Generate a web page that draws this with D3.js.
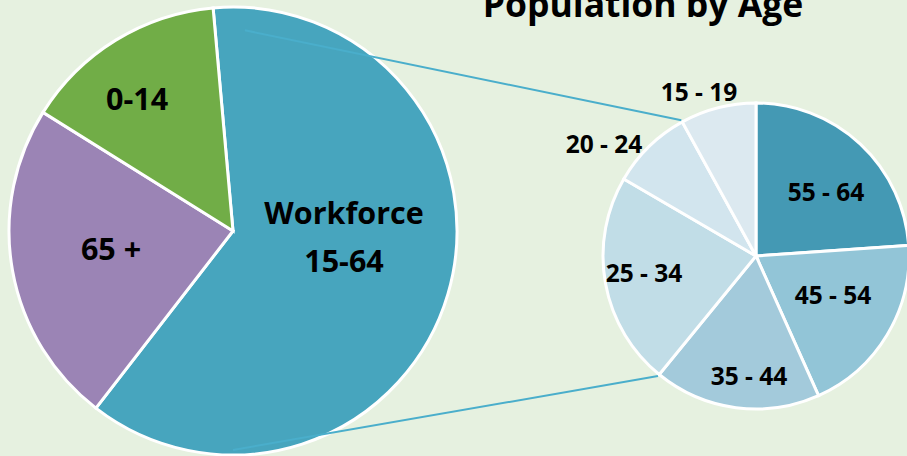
<!DOCTYPE html>
<html>
<head>
<meta charset="utf-8">
<script src="https://cdn.jsdelivr.net/npm/d3@7"></script>
<style>
  html, body { margin: 0; padding: 0; background: #e6f1e0; }
  text { font-family: "Open Sans", sans-serif; font-weight: 700; fill: #000; }
</style>
</head>
<body>
<div id="viz"></div>
<script>
// main split
const groups = ["Workforce 15-64", "65 +", "0-14"];
const groupShares = [61.9, 23.4, 14.7];
const groupColors = ["#47a5be", "#9b84b5", "#71ad47"];

// workforce breakdown
const ages = ["55 - 64", "45 - 54", "35 - 44", "25 - 34", "20 - 24", "15 - 19"];
const ageShares = [23.9, 19.4, 17.6, 22.5, 8.6, 8.0];
const ageColors = ["#4499b4", "#92c5d7", "#a3cadb", "#c1dde7", "#d2e5ee", "#dce9f0"];

const title = "Population by Age";

const width = 907, height = 456;
const deg = Math.PI / 180;

const svg = d3.select("#viz").append("svg")
    .attr("width", width)
    .attr("height", height);

const big = { x: 233, y: 231, r: 224 };
const small = { x: 756, y: 256, r: 153 };

const polar = (c, a, r) => [c.x + r * Math.sin(a), c.y - r * Math.cos(a)];

// big pie
const bigPie = d3.pie().sort(null).startAngle(-5.1 * deg).endAngle(354.9 * deg)
    .value(d => d.v)(groups.map((g, i) => ({ name: g, v: groupShares[i], color: groupColors[i] })));
const bigArc = d3.arc().innerRadius(0).outerRadius(big.r);

const gBig = svg.append("g").attr("transform", `translate(${big.x},${big.y})`);
gBig.selectAll(".big-slice")
    .data(bigPie)
    .join("path")
        .attr("class", "big-slice")
        .attr("d", bigArc)
        .attr("fill", d => d.data.color)
        .attr("stroke", "#fff")
        .attr("stroke-width", 3);

// small pie
const smallPie = d3.pie().sort(null)
    .value(d => d.v)(ages.map((g, i) => ({ name: g, v: ageShares[i], color: ageColors[i] })));
const smallArc = d3.arc().innerRadius(0).outerRadius(small.r);

const gSmall = svg.append("g").attr("transform", `translate(${small.x},${small.y})`);
gSmall.selectAll(".small-slice")
    .data(smallPie)
    .join("path")
        .attr("class", "small-slice")
        .attr("d", smallArc)
        .attr("fill", d => d.data.color)
        .attr("stroke", "#fff")
        .attr("stroke-width", 3);

// connector lines (from inside the workforce slice to the small pie)
const topStart = polar(big, 3.4 * deg, 201);
const botStart = polar(big, 180 * deg, 219);
const topEnd = polar(small, smallPie[5].startAngle, small.r + 2);
const botEnd = polar(small, smallPie[2].endAngle, small.r + 2);
svg.selectAll(".connector")
    .data([[topStart, topEnd], [botStart, botEnd]])
    .join("line")
        .attr("class", "connector")
        .attr("x1", d => d[0][0]).attr("y1", d => d[0][1])
        .attr("x2", d => d[1][0]).attr("y2", d => d[1][1])
        .attr("stroke", "#4aaecb")
        .attr("stroke-width", 2);

// labels, big pie
const bigLabelPos = [[344, 224], [111, 260], [137, 110]];
gBig.selectAll(".big-label")
    .data(bigPie)
    .join("text")
        .attr("class", "big-label")
        .attr("text-anchor", "middle")
        .style("font-size", "30.5px")
        .attr("x", (d, i) => bigLabelPos[i][0] - big.x)
        .attr("y", (d, i) => bigLabelPos[i][1] - big.y)
        .each(function(d) {
            const parts = d.data.name.startsWith("Workforce") ? ["Workforce", "15-64"] : [d.data.name];
            d3.select(this).selectAll("tspan")
                .data(parts)
                .join("tspan")
                    .attr("x", d3.select(this).attr("x"))
                    .attr("dy", (p, j) => j === 0 ? 0 : 48)
                    .text(p => p);
        });

// labels, small pie
const smallLabelPos = [[826, 201], [833, 304], [749, 385], [644, 282], [604, 153], [699, 101]];
gSmall.selectAll(".small-label")
    .data(smallPie)
    .join("text")
        .attr("class", "small-label")
        .attr("text-anchor", "middle")
        .style("font-size", "24.5px")
        .attr("x", (d, i) => smallLabelPos[i][0] - small.x)
        .attr("y", (d, i) => smallLabelPos[i][1] - small.y)
        .text(d => d.data.name);

svg.append("text")
    .attr("x", 643)
    .attr("y", 17)
    .attr("text-anchor", "middle")
    .style("font-size", "35.5px")
    .text(title);
</script>
</body>
</html>
